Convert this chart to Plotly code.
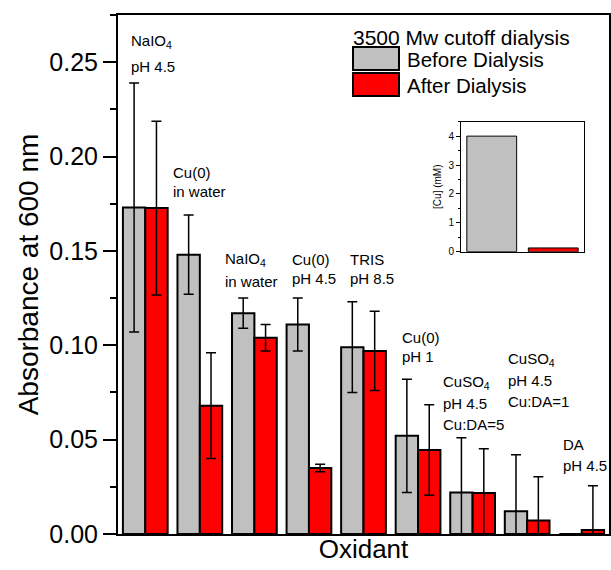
import plotly.graph_objects as go

# ---------------- data ----------------
categories = ["NaIO4 pH 4.5", "Cu(0) in water", "NaIO4 in water", "Cu(0) pH 4.5",
              "TRIS pH 8.5", "Cu(0) pH 1", "CuSO4 pH 4.5 Cu:DA=5",
              "CuSO4 pH 4.5 Cu:DA=1", "DA pH 4.5"]
before = [0.173, 0.148, 0.117, 0.111, 0.099, 0.052, 0.022, 0.012, 0.0]
before_err = [0.066, 0.021, 0.008, 0.014, 0.024, 0.030, 0.029, 0.030, 0.0]
after = [0.1727, 0.068, 0.104, 0.035, 0.097, 0.0445, 0.0217, 0.0071, 0.0021]
after_err = [0.046, 0.028, 0.007, 0.002, 0.021, 0.024, 0.0235, 0.0233, 0.0235]

label_lines = [["NaIO<sub>4</sub>", "pH 4.5"], ["Cu(0)", "in water"],
               ["NaIO<sub>4</sub>", "in water"], ["Cu(0)", "pH 4.5"],
               ["TRIS", "pH 8.5"], ["Cu(0)", "pH 1"],
               ["CuSO<sub>4</sub>", "pH 4.5", "Cu:DA=5"],
               ["CuSO<sub>4</sub>", "pH 4.5", "Cu:DA=1"], ["DA", "pH 4.5"]]

series_names = ["Before Dialysis", "After Dialysis"]
legend_title = "3500 Mw cutoff dialysis"
inset_cu = [4.0, 0.13]

# ---------------- style ----------------
FONT = "Arial, 'Liberation Sans', sans-serif"
GRAY = "#C0C0C0"
RED = "#FF0000"
W, H = 611, 570
ML, MR, MT, MB = 118, 2, 15, 36
PW, PH = W - ML - MR, H - MT - MB


def px_x(px):
    return (px - ML) / PW


def px_y(py):
    return (H - MB - py) / PH


fig = go.Figure()
for name, vals, errs, col in [(series_names[0], before, before_err, GRAY),
                              (series_names[1], after, after_err, RED)]:
    fig.add_trace(go.Bar(
        x=categories, y=vals, name=name, showlegend=False,
        marker=dict(color=col, line=dict(color="black", width=2)),
        error_y=dict(type="data", array=errs, color="black", thickness=1.5, width=5),
    ))

# inset
fig.add_trace(go.Bar(
    x=series_names, y=inset_cu, xaxis="x2", yaxis="y2", showlegend=False, width=0.81,
    marker=dict(color=[GRAY, RED], line=dict(color="black", width=1)),
))

# category labels (left x offset in category units, y of first line, line gap px)
label_pos = [(-0.28, 0.2612, 25), (-0.51, 0.1915, 19), (-0.56, 0.1457, 22),
             (-0.32, 0.1453, 19), (-0.27, 0.1453, 19), (-0.32, 0.1043, 19),
             (-0.56, 0.0805, 21), (-0.37, 0.0922, 21), (-0.37, 0.0474, 21)]
annotations = []
for i, (lines, (dx, y0, gap)) in enumerate(zip(label_lines, label_pos)):
    for k, txt in enumerate(lines):
        annotations.append(dict(
            x=i + dx, y=y0, xref="x", yref="y", text=txt, showarrow=False,
            xanchor="left", yanchor="middle", yshift=-k * gap, borderpad=0,
            font=dict(family=FONT, size=15, color="black"),
        ))

# custom legend
annotations.append(dict(x=px_x(352), y=px_y(37), xref="paper", yref="paper",
                        text=legend_title, showarrow=False, xanchor="left", borderpad=0,
                        yanchor="middle", font=dict(family=FONT, size=21, color="black")))
shapes = []
for j, (name, col) in enumerate(zip(series_names, [GRAY, RED])):
    top = 47 + j * 26
    shapes.append(dict(type="rect", xref="paper", yref="paper",
                       x0=px_x(353), x1=px_x(399), y0=px_y(top + 23), y1=px_y(top),
                       fillcolor=col, line=dict(color="black", width=2)))
    annotations.append(dict(x=px_x(406), y=px_y(top + 12), xref="paper", yref="paper",
                            text=name, showarrow=False, xanchor="left", yanchor="middle",
                            borderpad=0, font=dict(family=FONT, size=20.5, color="black")))

fig.update_layout(
    width=W, height=H,
    margin=dict(l=ML, r=MR, t=MT, b=MB, pad=0),
    paper_bgcolor="white", plot_bgcolor="white",
    barmode="group", bargap=0.18, bargroupgap=0,
    font=dict(family=FONT, color="black"),
    annotations=annotations, shapes=shapes,
    xaxis=dict(
        type="category", range=[-0.5, 8.5], showticklabels=False, ticks="",
        showline=True, linecolor="black", linewidth=2, mirror=True,
        showgrid=False, zeroline=False,
        title=dict(text="Oxidant", font=dict(family=FONT, size=26), standoff=5),
        automargin=False,
    ),
    yaxis=dict(
        range=[0, 0.275], dtick=0.05, tick0=0, tickformat=".2f",
        ticks="outside", ticklen=13, tickwidth=2, tickcolor="black",
        minor=dict(dtick=0.025, ticks="outside", ticklen=6, tickwidth=2, tickcolor="black"),
        tickfont=dict(family=FONT, size=25),
        showline=True, linecolor="black", linewidth=2, mirror=True,
        showgrid=False, zeroline=False,
        title=dict(text="Absorbance at 600 nm", font=dict(family=FONT, size=28), standoff=3),
        automargin=False,
    ),
    xaxis2=dict(
        domain=[px_x(461), px_x(584)], anchor="y2", type="category", range=[-0.5, 1.5],
        showticklabels=False, ticks="", showline=True, linecolor="black", linewidth=1,
        mirror=True, showgrid=False, zeroline=False,
    ),
    yaxis2=dict(
        domain=[px_y(251.7), px_y(121.7)], anchor="x2", range=[0, 4.5], dtick=1, tick0=0,
        ticks="outside", ticklen=4, tickwidth=1, tickcolor="black",
        minor=dict(dtick=0.5, ticks="outside", ticklen=2, tickwidth=1, tickcolor="black"),
        tickfont=dict(family=FONT, size=10),
        showline=True, linecolor="black", linewidth=1, mirror=True,
        showgrid=False, zeroline=False,
        title=dict(text="[Cu] (mM)", font=dict(family=FONT, size=10), standoff=4),
    ),
)

fig.write_html("out.html", config={"displayModeBar": False},
               post_script="document.body.style.margin='0';document.body.style.overflow='hidden';")
